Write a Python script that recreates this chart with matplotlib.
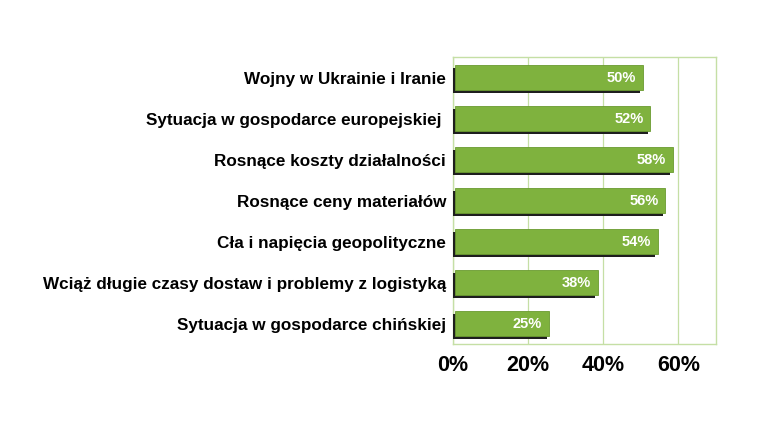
import matplotlib.pyplot as plt
import matplotlib.patheffects as pe

categories = [
    "Wojny w Ukrainie i Iranie",
    "Sytuacja w gospodarce europejskiej ",
    "Rosnące koszty działalności",
    "Rosnące ceny materiałów",
    "Cła i napięcia geopolityczne",
    "Wciąż długie czasy dostaw i problemy z logistyką",
    "Sytuacja w gospodarce chińskiej",
]
values = [50, 52, 58, 56, 54, 38, 25]
xticks = [0, 20, 40, 60]
xtick_labels = ["0%", "20%", "40%", "60%"]

plt.rcParams['font.family'] = ['Liberation Sans', 'DejaVu Sans']

fig = plt.figure(figsize=(7.64, 4.29), dpi=100)
ax = fig.add_axes([0.593, 0.198, 0.344, 0.669])

ypos = list(range(len(categories)))[::-1]
bars = ax.barh(ypos, values, left=0.5, height=0.6, color='#7fb23e', edgecolor='#6a9a30',
               linewidth=0.6, zorder=3)
for b in bars:
    b.set_clip_on(False)
    b.set_path_effects([pe.SimplePatchShadow(offset=(-1.6, -2), shadow_rgbFace='#1e1e1e', alpha=1.0),
                        pe.Normal()])

for y, v in zip(ypos, values):
    ax.text(v - 1.3, y, f"{v}%", ha='right', va='center', color='white',
            fontsize=10.5, fontweight='bold', zorder=4)

ax.set_xlim(0, 70)
ax.set_ylim(-0.5, len(categories) - 0.5)
ax.set_yticks(ypos)
ax.set_yticklabels(categories, fontsize=12.3, fontweight='bold')
ax.set_xticks(xticks)
ax.set_xticklabels(xtick_labels, fontsize=15.5, fontweight='bold')
ax.tick_params(axis='both', length=0)
ax.tick_params(axis='y', pad=5)
ax.tick_params(axis='x', pad=8)
ax.grid(axis='x', color='#c5dfa5', linewidth=0.9, zorder=0)
for s in ax.spines.values():
    s.set_color('#c5dfa5')
    s.set_linewidth(1.0)

fig.savefig('out.png', dpi=100)
